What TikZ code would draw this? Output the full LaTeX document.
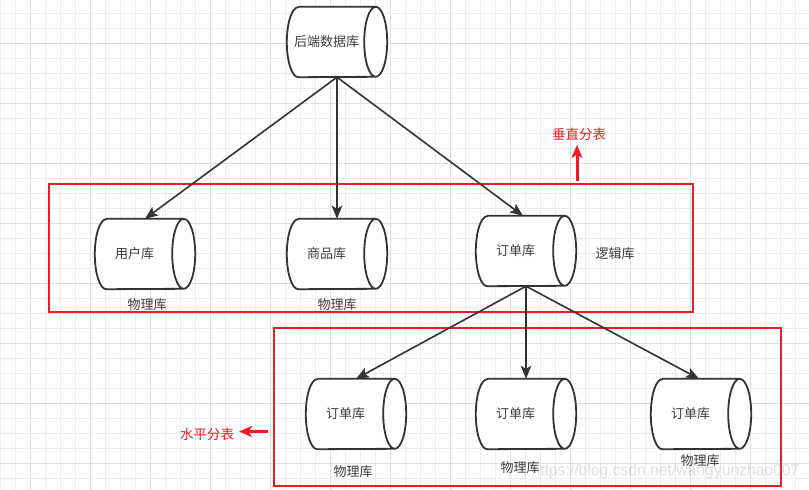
\documentclass[tikz,border=0pt]{standalone}
\usepackage{fontspec}
\setmainfont{Liberation Sans}
\newfontfamily\cjk{Noto Sans CJK SC}
\usetikzlibrary{arrows.meta}
\definecolor{ink}{RGB}{51,51,51}
\definecolor{txt}{RGB}{60,60,60}
\definecolor{redline}{RGB}{236,28,36}
\definecolor{gridminor}{RGB}{236,236,236}
\definecolor{gridmajor}{RGB}{222,222,222}
\newcommand\hcyl[1]{%
  \fill[white] ([xshift=11.5pt]#1.north west) -- ([xshift=-11.5pt]#1.north east)
    arc[start angle=90, end angle=-90, x radius=11.5pt, y radius=35pt]
    -- ([xshift=11.5pt]#1.south west)
    arc[start angle=270, end angle=90, x radius=11.5pt, y radius=35pt] -- cycle;
  \draw[cylline] ([xshift=11.5pt]#1.north west) -- ([xshift=-11.5pt]#1.north east)
    arc[start angle=90, end angle=-270, x radius=11.5pt, y radius=35pt]
    arc[start angle=90, end angle=-90, x radius=11.5pt, y radius=35pt]
    -- ([xshift=11.5pt]#1.south west)
    arc[start angle=270, end angle=90, x radius=11.5pt, y radius=35pt] -- cycle;}
\tikzset{
  cyl/.style={rectangle, draw=none, minimum width=100pt, minimum height=70pt, inner sep=0pt},
  cylline/.style={draw=ink, line width=1.8pt, line join=round},
  cyltext/.style={font=\cjk\fontsize{13}{15}\selectfont, text=txt, inner sep=1pt},
  redtext/.style={font=\cjk\fontsize{13.5}{15}\selectfont, text=redline, inner sep=1pt},
  conn/.style={draw=ink, line width=1.6pt, -{Stealth[length=13pt,width=10.5pt,inset=3pt]}},
  redarrow/.style={draw=redline, line width=3pt, -{Stealth[length=13pt,width=11pt,inset=3.5pt]}},
  redbox/.style={draw=redline, line width=1.6pt},
}
\begin{document}
\begin{tikzpicture}[x=1pt, y=-1pt]
\useasboundingbox (0,0) rectangle (809,490);
\fill[white] (0,0) rectangle (809,490);
% grid
\foreach \k in {0,...,53}{
  \pgfmathsetmacro\xx{0.7+15*\k}
  \pgfmathtruncatemacro\m{mod(\k,4)}
  \ifnum\m=2 \draw[gridmajor, line width=1pt] (\xx,0) -- (\xx,490);
  \else \draw[gridminor, line width=1pt] (\xx,0) -- (\xx,490); \fi
}
\foreach \k in {0,...,31}{
  \pgfmathsetmacro\yy{13.3+15*\k}
  \pgfmathtruncatemacro\m{mod(\k,4)}
  \ifnum\m=2 \draw[gridmajor, line width=1pt] (0,\yy) -- (809,\yy);
  \else \draw[gridminor, line width=1pt] (0,\yy) -- (809,\yy); \fi
}
% red boxes
\node[redbox, rectangle, minimum width=644pt, minimum height=128pt, inner sep=0pt] (box1) at (371,248) {};
\node[redbox, rectangle, minimum width=507pt, minimum height=158pt, inner sep=0pt] (box2) at (527.5,407) {};
% cylinders
\node[cyl] (db) at (337,42) {};
\node[cyl] (users) at (145,254) {};
\node[cyl] (goods) at (337,254) {};
\node[cyl] (order) at (526,251) {};
\node[cyl] (o1) at (356,414) {};
\node[cyl] (o2) at (526,414) {};
\node[cyl] (o3) at (701,414) {};
\hcyl{db}\hcyl{users}\hcyl{goods}\hcyl{order}\hcyl{o1}\hcyl{o2}\hcyl{o3}
\node[cyltext] (dbt) at ([xshift=-10.5pt]db.center) {后端数据库};
\node[cyltext] (userst) at ([xshift=-10.5pt,yshift=0.5pt]users.center) {用户库};
\node[cyltext] (goodst) at ([xshift=-10.5pt,yshift=0.5pt]goods.center) {商品库};
\node[cyltext] (ordert) at ([xshift=-10.5pt]order.center) {订单库};
\node[cyltext] (o1t) at ([xshift=-10.5pt]o1.center) {订单库};
\node[cyltext] (o2t) at ([xshift=-10.5pt]o2.center) {订单库};
\node[cyltext] (o3t) at ([xshift=-10.5pt]o3.center) {订单库};
% labels
\node[cyltext] (l1) at (147,305) {物理库};
\node[cyltext] (l2) at (337,305) {物理库};
\node[cyltext] (l3) at (615,254) {逻辑库};
\node[cyltext] (l4) at (353,472) {物理库};
\node[cyltext] (l5) at (520,468) {物理库};
\node[cyltext] (l6) at (700,461) {物理库};
% connectors
\draw[conn] (db.south) -- (users.north);
\draw[conn] (db.south) -- (goods.north);
\draw[conn] (db.south) -- ([xshift=-3pt]order.north);
\draw[conn] (order.south) -- (o1.north);
\draw[conn] (order.south) -- (o2.north);
\draw[conn] (order.south) -- ([xshift=-2pt]o3.north);
% red annotations
\node[redtext] (vt) at (579,134) {垂直分表};
\coordinate (va) at (577,181);
\coordinate (vb) at (577,145);
\draw[redarrow] (va) -- (vb);
\node[redtext] (ht) at (207,434) {水平分表};
\coordinate (ha) at (268,431.5);
\coordinate (hb) at (239,431.5);
\draw[redarrow] (ha) -- (hb);
% watermark
\node[font=\fontsize{15.7}{17}\selectfont, text=gray, opacity=0.25, inner sep=0pt] (wm) at (665.5,471) {https://blog.csdn.net/wangyunzhao007};
\end{tikzpicture}
\end{document}
